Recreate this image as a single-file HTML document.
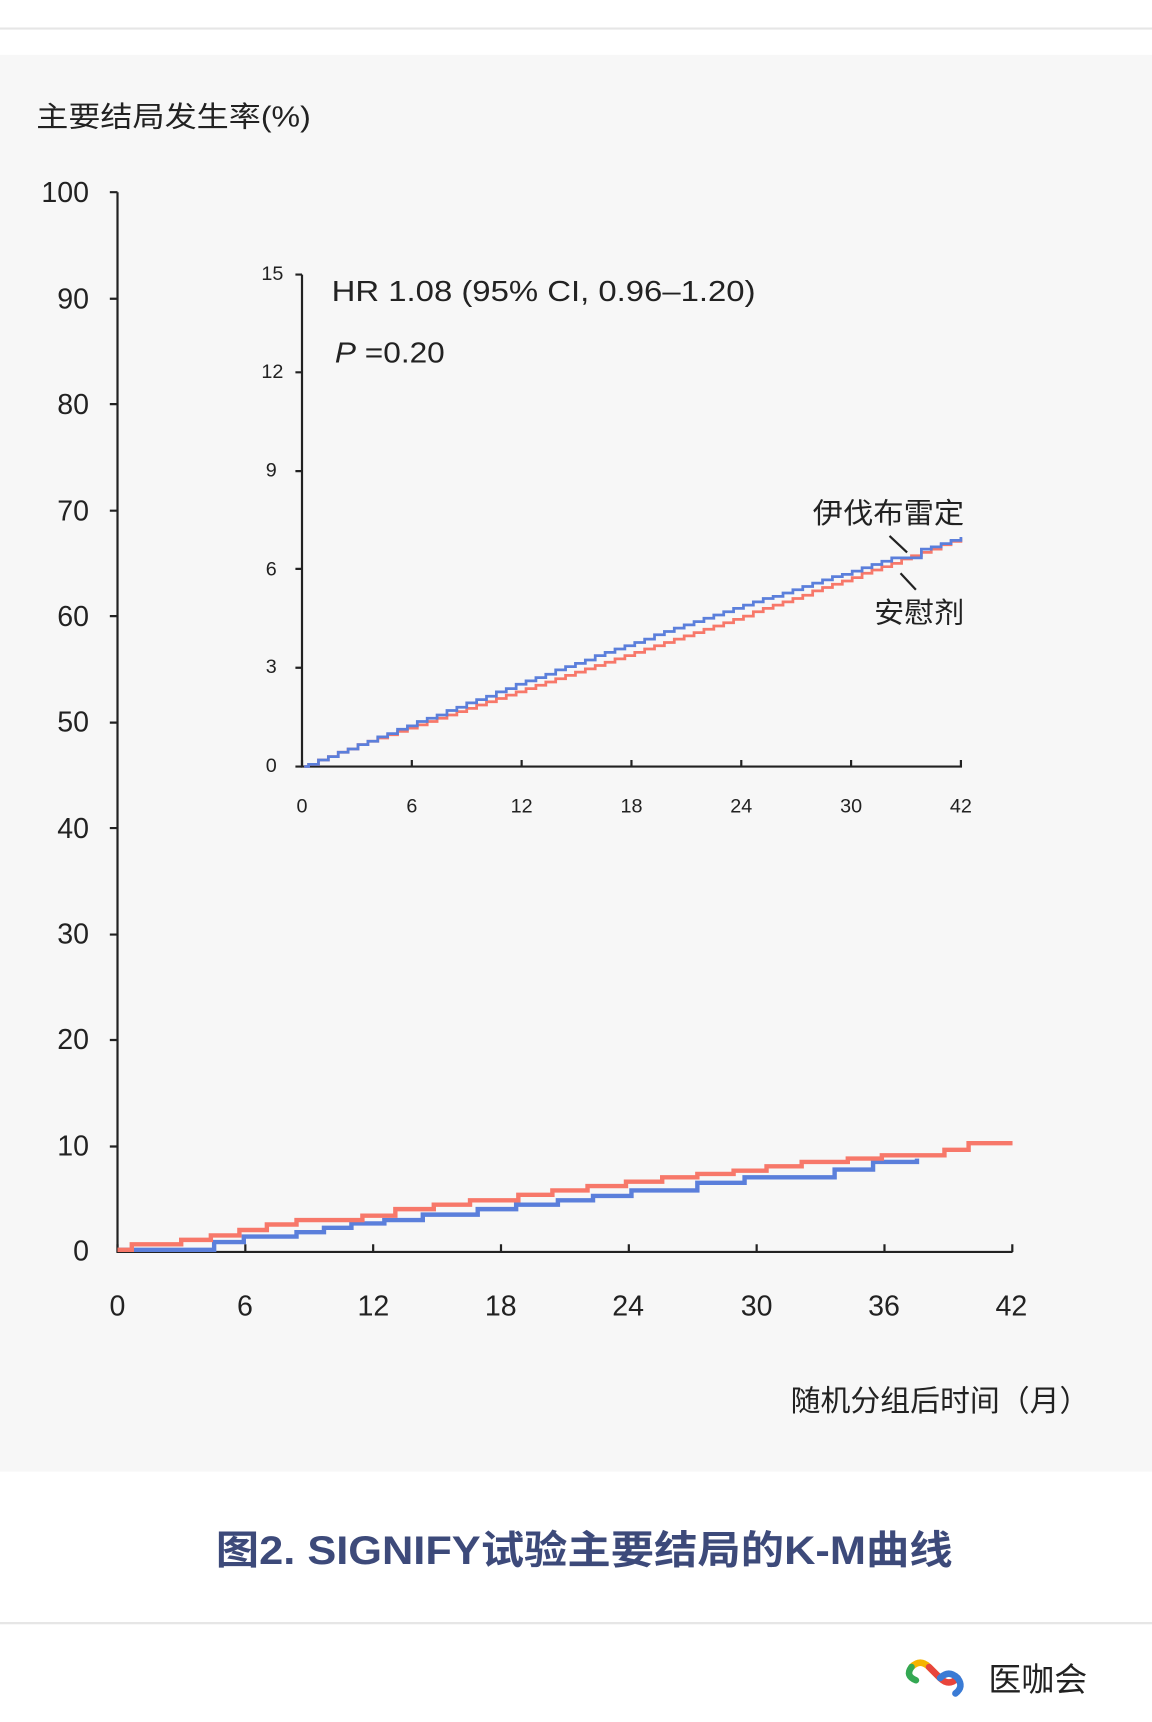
<!DOCTYPE html>
<html><head><meta charset="utf-8"><style>
html,body{margin:0;padding:0;background:#fff}
svg{display:block}
text{font-family:"Liberation Sans","Noto Sans CJK SC",sans-serif;fill:#222}
</style></head><body>
<svg id="s" width="1152" height="1722" viewBox="0 0 1049 1568" xmlns="http://www.w3.org/2000/svg">
<rect width="1049" height="1568" fill="#fff"/>
<line x1="0" y1="26" x2="1049" y2="26" stroke="#e6e6e6" stroke-width="2"/>
<rect x="0" y="50" width="1049" height="1290" fill="#f7f7f7"/>
<line x1="0" y1="1478" x2="1049" y2="1478" stroke="#e6e6e6" stroke-width="2"/>
<text x="33" y="115" font-size="26" textLength="250" lengthAdjust="spacingAndGlyphs">主要结局发生率(%)</text>
<g font-size="26" text-anchor="end">
<text x="81" y="184">100</text><text x="81" y="281">90</text><text x="81" y="377">80</text>
<text x="81" y="474">70</text><text x="81" y="570">60</text><text x="81" y="666">50</text>
<text x="81" y="763">40</text><text x="81" y="859">30</text><text x="81" y="955">20</text>
<text x="81" y="1052">10</text><text x="81" y="1148">0</text>
</g>
<g font-size="26" text-anchor="middle">
<text x="107" y="1198">0</text><text x="223" y="1198">6</text><text x="340" y="1198">12</text>
<text x="456" y="1198">18</text><text x="572" y="1198">24</text><text x="689" y="1198">30</text>
<text x="805" y="1198">36</text><text x="921" y="1198">42</text>
</g>
<text x="720" y="1285" font-size="27" textLength="272" lengthAdjust="spacingAndGlyphs">随机分组后时间（月）</text>
<path d="M107 175V1140H922" stroke="#222" stroke-width="2" fill="none"/>
<g font-size="18" text-anchor="end">
<text x="258" y="255">15</text><text x="258" y="344">12</text><text x="252" y="434">9</text>
<text x="252" y="524">6</text><text x="252" y="613">3</text><text x="252" y="703">0</text>
</g>
<g font-size="18" text-anchor="middle">
<text x="275" y="740">0</text><text x="375" y="740">6</text><text x="475" y="740">12</text>
<text x="575" y="740">18</text><text x="675" y="740">24</text><text x="775" y="740">30</text><text x="875" y="740">42</text>
</g>
<path d="M275 250V698H876" stroke="#222" stroke-width="2" fill="none"/>
<text x="302" y="274" font-size="26" textLength="386" lengthAdjust="spacingAndGlyphs">HR 1.08 (95% CI, 0.96–1.20)</text>
<text x="305" y="330" font-size="26" textLength="100" lengthAdjust="spacingAndGlyphs"><tspan font-style="italic">P</tspan> =0.20</text>
<text x="740" y="476" font-size="26" textLength="138" lengthAdjust="spacingAndGlyphs">伊伐布雷定</text>
<text x="796" y="567" font-size="26" textLength="82" lengthAdjust="spacingAndGlyphs">安慰剂</text>
<line x1="810" y1="488" x2="826" y2="503" stroke="#222" stroke-width="2"/>
<line x1="820" y1="522" x2="834" y2="537" stroke="#222" stroke-width="2"/>
<text x="532" y="1424" font-size="36" font-weight="bold" text-anchor="middle" textLength="671" lengthAdjust="spacingAndGlyphs" style="fill:#3d4a7a">图2. SIGNIFY试验主要结局的K-M曲线</text>
<g fill="none" stroke-width="6" stroke-linecap="round">
<path d="M830 1518q8-8 16 0l10 10" stroke="#f5b400"/>
<path d="M846 1518l10 10q8 8 16 0" stroke="#e8453c"/>
<path d="M856 1528q8-8 16 0q6 8-2 14" stroke="#3a7bd5"/>
<path d="M830 1518q-6 8 4 12" stroke="#34a853"/>
</g>
<text x="900" y="1540" font-size="30">医咖会</text>
</svg>
<script>
var s=document.getElementById('s'),NS='http://www.w3.org/2000/svg';
function P(d,c,w){var p=document.createElementNS(NS,'path');p.setAttribute('d',d);p.setAttribute('stroke',c);p.setAttribute('stroke-width',w);p.setAttribute('fill','none');s.appendChild(p);}
var t='';
[175,272,368,465,561,658,754,851,947,1044].forEach(function(y){t+='M100 '+y+'H107';});
for(var i=0;i<=7;i++){var x=107+i*116.4;t+='M'+x+' 1140V1133';}
[250,339,429,518,608,698].forEach(function(y){t+='M269 '+y+'H275';});
for(var i=0;i<=6;i++){var x=275+i*100;t+='M'+x+' 698V692';}
P(t,'#222',2);
function step(pts){var d='M'+pts[0][0]+' '+pts[0][1];for(var i=1;i<pts.length;i++){d+='H'+pts[i][0]+'V'+pts[i][1];}return d;}
var blueM=[[107,1138],[195,1131],[222,1126],[270,1122],[295,1118],[320,1114],[350,1111],[385,1106],[435,1101],[470,1097],[508,1093],[540,1089],[575,1084],[635,1077],[678,1072],[760,1065],[795,1058],[835,1055]];
var redM=[[107,1138],[120,1133],[165,1129],[192,1125],[218,1120],[243,1115],[270,1111],[330,1107],[360,1101],[395,1097],[428,1093],[472,1088],[503,1084],[535,1080],[570,1076],[603,1072],[635,1069],[668,1066],[698,1062],[730,1058],[772,1055],[803,1052],[860,1047],[882,1041],[922,1041]];
P(step(blueM),'#5b7fdb',4);P(step(redM),'#f7786a',4);
function ins(off){var pts=[[277,698]];for(var x=281;x<=876;x+=9){var u=(x-278)/598;var y=697-u*208-8*Math.sin(Math.PI*u);if(off){y+=10*Math.sin(Math.PI*Math.min(1,Math.max(0,(x-340)/545)));}if(x>805&&x<832&&!off)y=508;pts.push([x,Math.round(y)]);}return pts;}
P(step(ins(true)),'#f7786a',2.5);P(step(ins(false)),'#5b7fdb',2.5);
</script>
</body></html>
